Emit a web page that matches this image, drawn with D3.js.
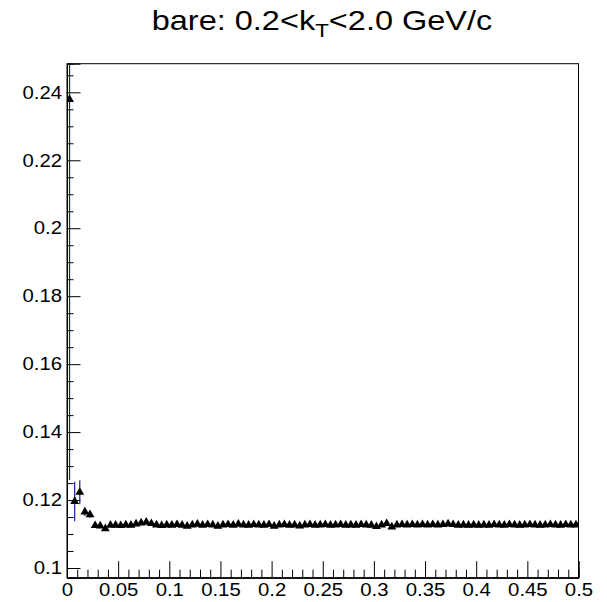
<!DOCTYPE html>
<html>
<head>
<meta charset="utf-8">
<script src="https://cdn.jsdelivr.net/npm/d3@7"></script>
<style>
  html, body { margin: 0; padding: 0; background: #fff; }
  svg { display: block; }
  text { font-family: "Liberation Sans", Arial, Helvetica, sans-serif; fill: #000; }
</style>
</head>
<body>
<svg id="chart" width="607" height="602"></svg>
<script>
// Bin layout: 100 bins of width 0.005 between 0 and 0.5
const binWidth = 0.005;

// Bin contents (ratio), one per bin
const values = [
  0.2379, 0.1196, 0.1223, 0.1165, 0.1157, 0.1125, 0.1124, 0.1116, 0.1126, 0.1126,
  0.1125, 0.1127, 0.1126, 0.1130, 0.1133, 0.1135, 0.1131, 0.1127, 0.1125, 0.1127,
  0.1126, 0.1128, 0.1126, 0.1123, 0.1127, 0.1129, 0.1126, 0.1128, 0.1127, 0.1123,
  0.1127, 0.1128, 0.1126, 0.1129, 0.1127, 0.1126, 0.1128, 0.1127, 0.1126, 0.1128,
  0.1123, 0.1127, 0.1128, 0.1126, 0.1127, 0.1124, 0.1127, 0.1128, 0.1126, 0.1127,
  0.1128, 0.1126, 0.1127, 0.1128, 0.1126, 0.1127, 0.1126, 0.1128, 0.1127, 0.1126,
  0.1122, 0.1127, 0.1131, 0.1121, 0.1127, 0.1128, 0.1127, 0.1128, 0.1127, 0.1128,
  0.1127, 0.1128, 0.1127, 0.1128, 0.1130, 0.1128, 0.1126, 0.1127, 0.1126, 0.1127,
  0.1126, 0.1127, 0.1126, 0.1128, 0.1127, 0.1126, 0.1128, 0.1127, 0.1126, 0.1127,
  0.1128, 0.1127, 0.1126, 0.1127, 0.1128, 0.1127, 0.1126, 0.1128, 0.1127, 0.1127
];

// Statistical errors per bin
const errors = [
  0.1120, 0.0058, 0.0035, 0.0012, 0.0010, 0.0007, 0.0006, 0.0006, 0.0005, 0.0005,
  0.0005, 0.0004, 0.0004, 0.0004, 0.0004, 0.0004, 0.0004, 0.0003, 0.0003, 0.0003,
  0.0003, 0.0003, 0.0003, 0.0003, 0.0003, 0.0003, 0.0003, 0.0003, 0.0003, 0.0003,
  0.0003, 0.0003, 0.0003, 0.0003, 0.0003, 0.0003, 0.0003, 0.0003, 0.0003, 0.0003,
  0.0003, 0.0003, 0.0003, 0.0003, 0.0003, 0.0003, 0.0003, 0.0003, 0.0003, 0.0003,
  0.0003, 0.0003, 0.0003, 0.0003, 0.0003, 0.0003, 0.0003, 0.0003, 0.0003, 0.0003,
  0.0003, 0.0003, 0.0003, 0.0003, 0.0003, 0.0003, 0.0003, 0.0003, 0.0003, 0.0003,
  0.0003, 0.0003, 0.0003, 0.0003, 0.0003, 0.0003, 0.0003, 0.0003, 0.0003, 0.0003,
  0.0003, 0.0003, 0.0003, 0.0003, 0.0003, 0.0003, 0.0003, 0.0003, 0.0003, 0.0003,
  0.0003, 0.0003, 0.0003, 0.0003, 0.0003, 0.0003, 0.0003, 0.0003, 0.0003, 0.0003
];

const xTickLabels = ["0", "0.05", "0.1", "0.15", "0.2", "0.25", "0.3", "0.35", "0.4", "0.45", "0.5"];
const yTickLabels = ["0.1", "0.12", "0.14", "0.16", "0.18", "0.2", "0.22", "0.24"];

const xDomain = [0, 0.5];
const yDomain = [0.09715, 0.24842];

const frame = { left: 67, right: 578.5, top: 63.7, bottom: 577.7 };
const labelStretch = 1.13;   // horizontal widening of label glyphs

const svg = d3.select("#chart");

const x = d3.scaleLinear().domain(xDomain).range([frame.left, frame.right]);
const y = d3.scaleLinear().domain(yDomain).range([frame.bottom, frame.top]);

const bins = values.map((v, i) => ({
  center: (i + 0.5) * binWidth,
  value: v,
  err: errors[i]
}));

// Clip region for the plotted data
svg.append("defs").append("clipPath").attr("id", "frameClip")
  .append("rect")
  .attr("x", frame.left).attr("y", frame.top)
  .attr("width", frame.right - frame.left).attr("height", frame.bottom - frame.top);

// Frame box
svg.append("rect")
  .attr("x", frame.left).attr("y", frame.top)
  .attr("width", frame.right - frame.left).attr("height", frame.bottom - frame.top)
  .attr("fill", "none").attr("stroke", "#000").attr("stroke-width", 1);

// X axis: major every 0.05, minor every 0.01
const xMajor = xTickLabels.map(Number);
const xMinor = d3.range(0, 51).map(k => k * 0.01).filter(t => Math.abs(t * 20 - Math.round(t * 20)) > 1e-6);
const xAxisMajor = d3.axisBottom(x).tickValues(xMajor).tickSize(-16.5)
  .tickFormat((d, i) => xTickLabels[i]);
const xAxisMinor = d3.axisBottom(x).tickValues(xMinor).tickSize(-8).tickFormat("");

const gxMinor = svg.append("g").attr("transform", `translate(0,${frame.bottom})`).call(xAxisMinor);
const gx = svg.append("g").attr("transform", `translate(0,${frame.bottom})`).call(xAxisMajor);
[gx, gxMinor].forEach(g => {
  g.select(".domain").attr("stroke", "#000");
  g.selectAll(".tick line").attr("stroke", "#000");
});
gx.selectAll(".tick text")
  .attr("font-size", 18).attr("x", 0).attr("y", 0).attr("dy", "0.71em")
  .attr("transform", `translate(0,6) scale(${labelStretch},1)`)
  .style("font-family", "Liberation Sans, Arial, sans-serif");

// Y axis: major every 0.02, minor every 0.005
const yMajor = yTickLabels.map(Number);
const yMinor = d3.range(0, 30).map(k => 0.1 + k * 0.005)
  .filter(t => t <= yDomain[1] && Math.abs((t - 0.1) / 0.02 - Math.round((t - 0.1) / 0.02)) > 1e-6);
const yAxisMajor = d3.axisLeft(y).tickValues(yMajor).tickSize(-13.5)
  .tickFormat((d, i) => yTickLabels[i]);
const yAxisMinor = d3.axisLeft(y).tickValues(yMinor).tickSize(-6.5).tickFormat("");

const gyMinor = svg.append("g").attr("transform", `translate(${frame.left},0)`).call(yAxisMinor);
const gy = svg.append("g").attr("transform", `translate(${frame.left},0)`).call(yAxisMajor);
[gy, gyMinor].forEach(g => {
  g.select(".domain").attr("stroke", "#000");
  g.selectAll(".tick line").attr("stroke", "#000");
});
gy.selectAll(".tick text")
  .attr("font-size", 18).attr("x", 0)
  .attr("transform", `translate(-5,0) scale(${labelStretch},1)`)
  .style("font-family", "Liberation Sans, Arial, sans-serif");

// Data: error bars and triangle markers
const plot = svg.append("g").attr("clip-path", "url(#frameClip)");

plot.selectAll("line.err")
  .data(bins)
  .join("line")
  .attr("class", "err")
  .attr("x1", d => x(d.center)).attr("x2", d => x(d.center))
  .attr("y1", d => y(d.value - d.err)).attr("y2", d => y(d.value + d.err))
  .attr("stroke", "#1a1aa8").attr("stroke-width", 1.2);

const tri = d3.symbol().type(d3.symbolTriangle).size(34);
plot.selectAll("path.marker")
  .data(bins)
  .join("path")
  .attr("class", "marker")
  .attr("d", tri)
  .attr("transform", d => `translate(${x(d.center)},${y(d.value)})`)
  .attr("fill", "#000");

// Title with subscript, fitted to its box
const titleCenter = 322, titleWidth = 341;
const titleG = svg.append("g");
const title = titleG.append("text")
  .attr("x", 0).attr("y", 0)
  .attr("text-anchor", "middle")
  .attr("font-size", 27.5);
title.append("tspan").text("bare: 0.2<k");
title.append("tspan").attr("font-size", 19).attr("dy", 7).text("T");
title.append("tspan").attr("dy", -7).text("<2.0 GeV/c");
const tw = title.node().getBBox().width;
titleG.attr("transform", `translate(${titleCenter},30) scale(${titleWidth / tw},1)`);
</script>
</body>
</html>
